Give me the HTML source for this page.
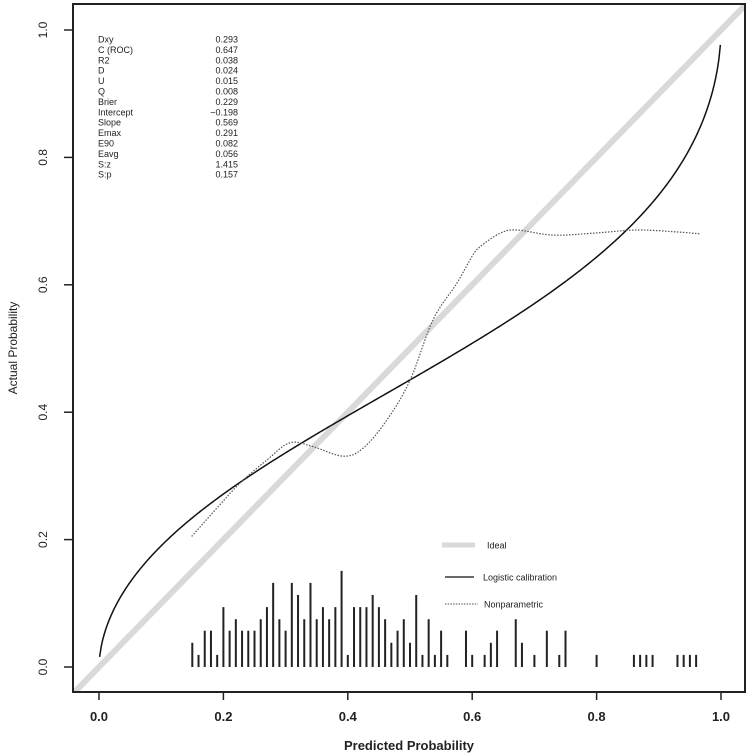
<!DOCTYPE html>
<html><head><meta charset="utf-8"><style>
html,body{margin:0;padding:0;background:#fff;}
svg{display:block;font-family:"Liberation Sans",Arial,sans-serif;}
</style></head><body>
<svg id="chart" width="750" height="756" viewBox="0 0 750 756" xmlns="http://www.w3.org/2000/svg"></svg>
<script>
const xTicks = [0, 0.2, 0.4, 0.6, 0.8, 1.0];
const yTicks = [0, 0.2, 0.4, 0.6, 0.8, 1.0];
const tickLabels = ["0.0", "0.2", "0.4", "0.6", "0.8", "1.0"];
const statNames = ["Dxy","C (ROC)","R2","D","U","Q","Brier","Intercept","Slope","Emax","E90","Eavg","S:z","S:p"];
const statValues = ["0.293","0.647","0.038","0.024","0.015","0.008","0.229","\u22120.198","0.569","0.291","0.082","0.056","1.415","0.157"];
const calIntercept = -0.198;
const calSlope = 0.569;
const npX = [0.149,0.19,0.227,0.27,0.307,0.344,0.392,0.424,0.463,0.500,0.537,0.575,0.600,0.613,0.645,0.672,0.730,0.794,0.865,0.929,0.966];
const npY = [0.205,0.25,0.289,0.325,0.352,0.346,0.331,0.343,0.388,0.450,0.545,0.602,0.645,0.660,0.681,0.686,0.678,0.681,0.686,0.683,0.680];
const spikeX = [0.15,0.16,0.17,0.18,0.19,0.20,0.21,0.22,0.23,0.24,0.25,0.26,0.27,0.28,0.29,0.30,0.31,0.32,0.33,0.34,0.35,0.36,0.37,0.38,0.39,0.40,0.41,0.42,0.43,0.44,0.45,0.46,0.47,0.48,0.49,0.50,0.51,0.52,0.53,0.54,0.55,0.56,0.59,0.60,0.62,0.63,0.64,0.67,0.68,0.70,0.72,0.74,0.75,0.80,0.86,0.87,0.88,0.89,0.93,0.94,0.95,0.96];
const spikeH = [0.038,0.019,0.057,0.057,0.019,0.094,0.057,0.075,0.057,0.057,0.057,0.075,0.094,0.132,0.075,0.057,0.132,0.113,0.075,0.132,0.075,0.094,0.075,0.094,0.151,0.019,0.094,0.094,0.094,0.113,0.094,0.075,0.038,0.057,0.075,0.038,0.113,0.019,0.075,0.019,0.057,0.019,0.057,0.019,0.019,0.038,0.057,0.075,0.038,0.019,0.057,0.019,0.057,0.019,0.019,0.019,0.019,0.019,0.019,0.019,0.019,0.019];

const NS = "http://www.w3.org/2000/svg";
const svg = document.getElementById("chart");
const X0 = 99, XS = 622, Y0 = 667, YS = 637;
const L = 73, R = 745, T = 4, B = 692;
function sx(v){ return X0 + v*XS; }
function sy(v){ return Y0 - v*YS; }
function mk(tag, attrs, parent){
  const e = document.createElementNS(NS, tag);
  for (const k in attrs) e.setAttribute(k, attrs[k]);
  (parent||svg).appendChild(e);
  return e;
}

const defs = mk("defs", {});
const cp = mk("clipPath", {id:"plotclip"}, defs);
mk("rect", {x:L, y:T, width:R-L, height:B-T}, cp);

const plot = mk("g", {"clip-path":"url(#plotclip)"});



// ideal line
const ideal = mk("line", {x1:sx(-0.1), y1:sy(-0.1), x2:sx(1.1), y2:sy(1.1), stroke:"#d9d9d9", "stroke-width":6}, plot);



// logistic calibration curve from intercept/slope
let d = "";
for (let i = 0; i <= 400; i++){
  const p = 0.001 + (0.998)*i/400;
  const lg = Math.log(p/(1-p));
  const q = 1/(1+Math.exp(-(calIntercept + calSlope*lg)));
  d += (i?"L":"M") + sx(p).toFixed(2) + "," + sy(q).toFixed(2);
}
const logi = mk("path", {d:d, fill:"none", stroke:"#111", "stroke-width":1.5}, plot);



// nonparametric curve (smooth through points)
let pts = npX.map((x,i)=>[sx(x), sy(npY[i])]);
let nd = "M" + pts[0][0] + "," + pts[0][1];
for (let i = 0; i < pts.length-1; i++){
  const p0 = pts[Math.max(0,i-1)], p1 = pts[i], p2 = pts[i+1], p3 = pts[Math.min(pts.length-1,i+2)];
  const c1 = [p1[0]+(p2[0]-p0[0])/6, p1[1]+(p2[1]-p0[1])/6];
  const c2 = [p2[0]-(p3[0]-p1[0])/6, p2[1]-(p3[1]-p1[1])/6];
  nd += "C"+c1[0].toFixed(2)+","+c1[1].toFixed(2)+" "+c2[0].toFixed(2)+","+c2[1].toFixed(2)+" "+p2[0].toFixed(2)+","+p2[1].toFixed(2);
}
const np = mk("path", {d:nd, fill:"none", stroke:"#555", "stroke-width":1.2, "stroke-dasharray":"1.5,1.5"}, plot);



// spikes
spikeX.forEach((x,i)=>{
  const s = mk("line", {x1:sx(x), x2:sx(x), y1:sy(0), y2:sy(spikeH[i]), stroke:"#222", "stroke-width":2}, plot);
  
  
});

// box
const box = mk("rect", {x:L, y:T, width:R-L, height:B-T, fill:"none", stroke:"#222", "stroke-width":2});



// x ticks
xTicks.forEach((v,i)=>{
  const t = mk("line", {x1:sx(v), x2:sx(v), y1:B, y2:B+8, stroke:"#222", "stroke-width":1.5});
  
  
  const tx = mk("text", {x:sx(v), y:721, "text-anchor":"middle", "font-size":13, "font-weight":"bold", fill:"#222"});
  tx.textContent = tickLabels[i];
  
  
});
// y ticks
yTicks.forEach((v,i)=>{
  const t = mk("line", {x1:L-9, x2:L, y1:sy(v), y2:sy(v), stroke:"#222", "stroke-width":1.5});
  
  
  const tx = mk("text", {x:47, y:sy(v), "text-anchor":"middle", "font-size":12, fill:"#222", transform:"rotate(-90 47 "+sy(v)+")"});
  tx.textContent = tickLabels[i];
  
  
});

const xt = mk("text", {x:409, y:750, "text-anchor":"middle", "font-size":13, "font-weight":"bold", fill:"#222"});
xt.textContent = "Predicted Probability";


const yt = mk("text", {x:17, y:348, "text-anchor":"middle", "font-size":12, fill:"#222", transform:"rotate(-90 17 348)"});
yt.textContent = "Actual Probability";



// stats
statNames.forEach((n,i)=>{
  const y = 42.5 + i*10.4;
  const a = mk("text", {x:98, y:y, "font-size":9, fill:"#222"});
  a.textContent = n;
  
  
  const b = mk("text", {x:238, y:y, "font-size":9, fill:"#222", "text-anchor":"end"});
  b.textContent = statValues[i];
  
  
});

// legend
const lg = mk("g", {});


mk("line", {x1:442, x2:475, y1:545, y2:545, stroke:"#d9d9d9", "stroke-width":5}, lg);
let t1 = mk("text", {x:487, y:548.5, "font-size":9, fill:"#222"}, lg); t1.textContent = "Ideal";


mk("line", {x1:445, x2:474, y1:577, y2:577, stroke:"#111", "stroke-width":1.3}, lg);
let t2 = mk("text", {x:483, y:580.5, "font-size":9, fill:"#222"}, lg); t2.textContent = "Logistic calibration";


mk("line", {x1:445, x2:478, y1:604, y2:604, stroke:"#555", "stroke-width":1, "stroke-dasharray":"1.5,1.2"}, lg);
let t3 = mk("text", {x:484, y:607.5, "font-size":9, fill:"#222"}, lg); t3.textContent = "Nonparametric";


</script>
</body></html>
